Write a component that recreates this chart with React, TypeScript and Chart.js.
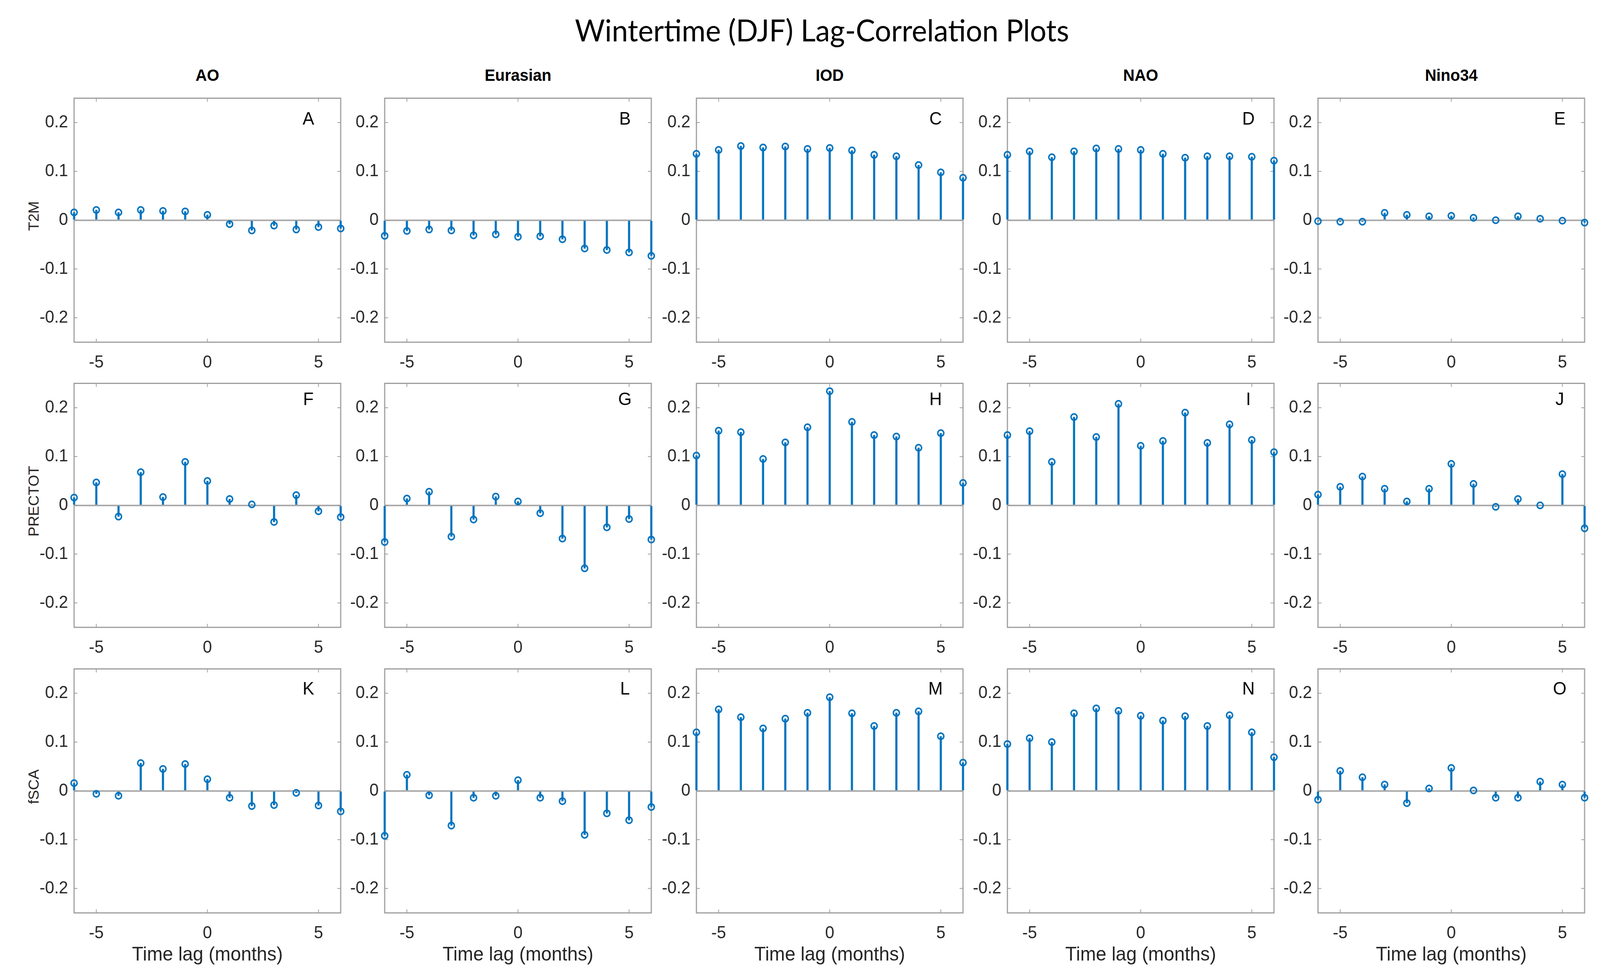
import React, { useEffect, useRef, useState } from "react";
import { Chart, registerables } from "chart.js";
Chart.register(...registerables);

// ---------------- data ----------------
const lags = [-6, -5, -4, -3, -2, -1, 0, 1, 2, 3, 4, 5, 6];
const indices = ["AO", "Eurasian", "IOD", "NAO", "Nino34"];
const variables = ["T2M", "PRECTOT", "fSCA"];
const panelLetters = ["A", "B", "C", "D", "E", "F", "G", "H", "I", "J", "K", "L", "M", "N", "O"];
const xTicks = [-5, 0, 5];
const yTicks = [-0.2, -0.1, 0, 0.1, 0.2];
const figureTitle = "Wintertime (DJF) Lag-Correlation Plots";
const xLabel = "Time lag (months)";

const t2mAO = [0.016, 0.021, 0.016, 0.021, 0.019, 0.018, 0.011, -0.008, -0.021, -0.011, -0.019, -0.014, -0.017];
const t2mEurasian = [-0.032, -0.022, -0.019, -0.021, -0.031, -0.029, -0.034, -0.033, -0.039, -0.058, -0.061, -0.066, -0.073];
const t2mIOD = [0.136, 0.144, 0.152, 0.149, 0.151, 0.146, 0.148, 0.143, 0.134, 0.131, 0.113, 0.098, 0.087];
const t2mNAO = [0.134, 0.141, 0.129, 0.141, 0.147, 0.146, 0.144, 0.136, 0.128, 0.131, 0.131, 0.130, 0.122];
const t2mNino34 = [-0.002, -0.003, -0.003, 0.015, 0.011, 0.008, 0.009, 0.005, 0.0, 0.008, 0.003, -0.001, -0.005];

const prectotAO = [0.016, 0.047, -0.023, 0.068, 0.017, 0.089, 0.050, 0.013, 0.002, -0.034, 0.021, -0.012, -0.024];
const prectotEurasian = [-0.075, 0.014, 0.028, -0.064, -0.029, 0.018, 0.008, -0.016, -0.068, -0.129, -0.045, -0.028, -0.070];
const prectotIOD = [0.102, 0.153, 0.150, 0.095, 0.129, 0.160, 0.234, 0.171, 0.144, 0.141, 0.118, 0.148, 0.046];
const prectotNAO = [0.144, 0.152, 0.089, 0.181, 0.140, 0.208, 0.122, 0.132, 0.190, 0.128, 0.166, 0.134, 0.109];
const prectotNino34 = [0.022, 0.038, 0.059, 0.034, 0.008, 0.034, 0.085, 0.044, -0.003, 0.013, 0.0, 0.064, -0.047];

const fscaAO = [0.016, -0.006, -0.010, 0.057, 0.045, 0.055, 0.024, -0.014, -0.031, -0.029, -0.004, -0.030, -0.042];
const fscaEurasian = [-0.092, 0.033, -0.009, -0.071, -0.014, -0.010, 0.022, -0.014, -0.021, -0.090, -0.046, -0.060, -0.033];
const fscaIOD = [0.120, 0.167, 0.151, 0.128, 0.148, 0.160, 0.192, 0.159, 0.133, 0.160, 0.163, 0.112, 0.058];
const fscaNAO = [0.096, 0.108, 0.100, 0.159, 0.169, 0.164, 0.154, 0.144, 0.153, 0.133, 0.155, 0.120, 0.069];
const fscaNino34 = [-0.018, 0.041, 0.028, 0.013, -0.025, 0.005, 0.047, 0.001, -0.014, -0.014, 0.019, 0.013, -0.014];

const seriesGrid = [
  [t2mAO, t2mEurasian, t2mIOD, t2mNAO, t2mNino34],
  [prectotAO, prectotEurasian, prectotIOD, prectotNAO, prectotNino34],
  [fscaAO, fscaEurasian, fscaIOD, fscaNAO, fscaNino34],
];

// ---------------- style / layout ----------------
const DESIGN_W = 4255;
const DESIGN_H = 2496;
const BLUE = "#0072BD";
const FONT = "'Liberation Sans', Arial, Helvetica, sans-serif";
const TITLE_FONT = "Lato, 'Open Sans', sans-serif";
const TICK_COLOR = "#262626";
const COL_LEFT = [197, 1023, 1852, 2679, 3505];
const ROW_TOP = [229, 959, 1690];
const PLOT_W = 709;
const PLOT_H = 647;
const LPAD = 150;
const RPAD = 30;
const TPAD = 20;
const BPAD = 90;
const LETTER_DY = [55, 43, 53];
const LETTER_DX = [86, 70, 73, 68, 66];

const boxPlugin = {
  id: "matlabBox",
  beforeDatasetsDraw(chart: any) {
    const { ctx, chartArea: a, scales } = chart;
    ctx.save();
    ctx.strokeStyle = "#9c9c9c";
    ctx.lineWidth = 3;
    ctx.strokeRect(a.left, a.top, a.right - a.left, a.bottom - a.top);
    ctx.lineWidth = 2;
    const tl = 9;
    ctx.beginPath();
    for (const v of xTicks) {
      const px = scales.x.getPixelForValue(v);
      ctx.moveTo(px, a.bottom);
      ctx.lineTo(px, a.bottom - tl);
      ctx.moveTo(px, a.top);
      ctx.lineTo(px, a.top + tl);
    }
    for (const v of yTicks) {
      const py = scales.y.getPixelForValue(v);
      ctx.moveTo(a.left, py);
      ctx.lineTo(a.left + tl, py);
      ctx.moveTo(a.right, py);
      ctx.lineTo(a.right - tl, py);
    }
    ctx.stroke();
    ctx.restore();
  },
  afterDatasetsDraw(chart: any, _args: any, opts: any) {
    const { ctx, chartArea: a } = chart;
    ctx.save();
    ctx.fillStyle = "#000";
    ctx.font = `46px ${FONT}`;
    ctx.textAlign = "center";
    ctx.textBaseline = "middle";
    ctx.fillText(opts.letter, a.right - opts.dx, a.top + opts.dy);
    ctx.restore();
  },
};

function Panel({ row, col }: { row: number; col: number }) {
  const ref = useRef<HTMLCanvasElement | null>(null);
  useEffect(() => {
    const values = seriesGrid[row][col];
    const pts = lags.map((x, i) => ({ x, y: values[i] }));
    const chart = new Chart(ref.current as HTMLCanvasElement, {
      type: "bar",
      data: {
        datasets: [
          {
            type: "bar",
            data: pts as any,
            backgroundColor: BLUE,
            barThickness: 5,
            clip: false as any,
            order: 2,
          } as any,
          {
            type: "scatter",
            data: pts as any,
            pointRadius: 8,
            pointBorderWidth: 4,
            pointBorderColor: BLUE,
            pointBackgroundColor: "rgba(0,0,0,0)",
            clip: false as any,
            order: 1,
          } as any,
        ],
      },
      options: {
        responsive: false,
        animation: false,
        devicePixelRatio: 1,
        layout: { padding: { top: TPAD, right: RPAD, left: 0, bottom: 0 } },
        plugins: {
          legend: { display: false },
          tooltip: { enabled: false },
          title: { display: false },
          matlabBox: { letter: panelLetters[row * 5 + col], dy: LETTER_DY[row], dx: LETTER_DX[col] },
        } as any,
        scales: {
          x: {
            type: "linear",
            min: -6,
            max: 6,
            offset: false,
            grid: { display: false },
            border: { display: false },
            afterBuildTicks: (s: any) => {
              s.ticks = xTicks.map((v) => ({ value: v }));
            },
            afterFit: (s: any) => {
              s.height = BPAD;
            },
            ticks: {
              color: TICK_COLOR,
              font: { family: FONT, size: 44 },
              padding: 18,
              maxRotation: 0,
              autoSkip: false,
              callback: (v: any) => String(v),
            },
          },
          y: {
            type: "linear",
            min: -0.25,
            max: 0.25,
            afterBuildTicks: (s: any) => {
              s.ticks = yTicks.map((v) => ({ value: v }));
            },
            afterFit: (s: any) => {
              s.width = LPAD;
            },
            grid: {
              drawTicks: false,
              lineWidth: 4,
              color: (c: any) => (c.tick && c.tick.value === 0 ? "#ababab" : "rgba(0,0,0,0)"),
            },
            border: { display: false },
            ticks: {
              color: TICK_COLOR,
              font: { family: FONT, size: 44 },
              padding: 16,
              autoSkip: false,
              callback: (v: any) => String(v),
            },
          },
        } as any,
      },
      plugins: [boxPlugin as any],
    });
    return () => chart.destroy();
  }, [row, col]);

  const w = LPAD + PLOT_W + RPAD;
  const h = TPAD + PLOT_H + BPAD;
  return (
    <canvas
      ref={ref}
      width={w}
      height={h}
      style={{
        position: "absolute",
        left: COL_LEFT[col] - LPAD,
        top: ROW_TOP[row] - TPAD,
        width: w,
        height: h,
      }}
    />
  );
}

const textBase: React.CSSProperties = {
  position: "absolute",
  whiteSpace: "nowrap",
  transform: "translate(-50%, -50%)",
  lineHeight: 1,
};

function viewportSize() {
  const de = document.documentElement;
  return { w: de.clientWidth || window.innerWidth, h: de.clientHeight || window.innerHeight };
}

export default function App() {
  const [vp, setVp] = useState(viewportSize());
  useEffect(() => {
    const onResize = () => setVp(viewportSize());
    window.addEventListener("resize", onResize);
    return () => window.removeEventListener("resize", onResize);
  }, []);
  const sx = vp.w / DESIGN_W;
  const sy = vp.h / DESIGN_H;
  return (
    <div
      style={{
        position: "fixed",
        left: 0,
        top: 0,
        width: DESIGN_W,
        height: DESIGN_H,
        background: "#ffffff",
        overflow: "hidden",
        transform: `scale(${sx}, ${sy})`,
        transformOrigin: "0 0",
      }}
    >
      <div style={{ ...textBase, left: 2186, top: 76, fontFamily: TITLE_FONT, fontSize: 77, color: "#000" }}>
        {figureTitle}
      </div>
      {indices.map((name, c) => (
        <div
          key={"ct" + c}
          style={{
            ...textBase,
            left: COL_LEFT[c] + PLOT_W / 2,
            top: 193,
            fontFamily: FONT,
            fontWeight: "bold",
            fontSize: 42,
            color: "#000",
          }}
        >
          {name}
        </div>
      ))}
      {variables.map((name, r) => (
        <div
          key={"rl" + r}
          style={{
            ...textBase,
            left: 90,
            top: ROW_TOP[r] + PLOT_H / 2,
            transform: "translate(-50%, -50%) rotate(-90deg)",
            fontFamily: FONT,
            fontSize: 38,
            color: TICK_COLOR,
          }}
        >
          {name}
        </div>
      ))}
      {indices.map((_, c) => (
        <div
          key={"xl" + c}
          style={{
            ...textBase,
            left: COL_LEFT[c] + PLOT_W / 2,
            top: 2442,
            fontFamily: FONT,
            fontSize: 50,
            color: TICK_COLOR,
          }}
        >
          {xLabel}
        </div>
      ))}
      {variables.map((_, r) =>
        indices.map((__, c) => <Panel key={`p${r}${c}`} row={r} col={c} />)
      )}
    </div>
  );
}
